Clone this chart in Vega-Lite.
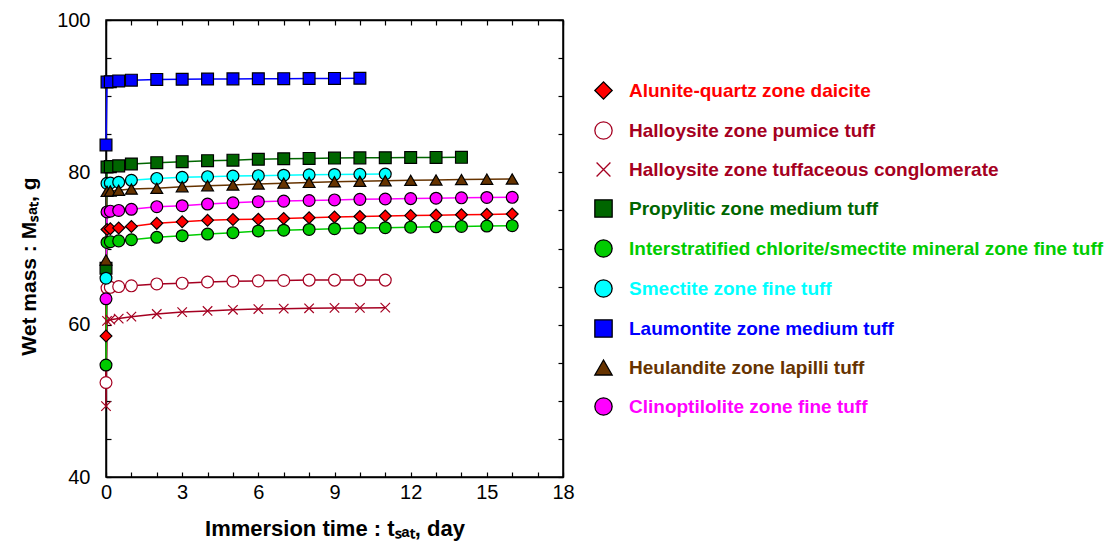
{
  "$schema": "https://vega.github.io/schema/vega-lite/v6.json",
  "width": 457,
  "height": 457,
  "autosize": {"type": "none"},
  "padding": {"left": 106, "top": 20, "right": 545, "bottom": 72},
  "background": "white",
  "config": {
    "view": {"stroke": "black", "strokeWidth": 1.5},
    "axis": {
      "grid": false,
      "domainColor": "black",
      "domainWidth": 1.5,
      "tickColor": "black",
      "tickWidth": 1.2,
      "tickSize": -5,
      "labelFlush": false,
      "labelColor": "black",
      "labelFont": "Liberation Sans",
      "labelFontSize": 20,
      "titleColor": "black",
      "titleFont": "Liberation Sans",
      "titleFontWeight": "bold",
      "titleFontSize": 22
    }
  },
  "data": {
    "values": [
      {"s": "Alunite-quartz zone daicite", "t": 0, "m": 58.5},
      {"s": "Alunite-quartz zone daicite", "t": 0.04, "m": 72.5},
      {"s": "Alunite-quartz zone daicite", "t": 0.17, "m": 72.6},
      {"s": "Alunite-quartz zone daicite", "t": 0.5, "m": 72.7},
      {"s": "Alunite-quartz zone daicite", "t": 1, "m": 72.9},
      {"s": "Alunite-quartz zone daicite", "t": 2, "m": 73.3},
      {"s": "Alunite-quartz zone daicite", "t": 3, "m": 73.5},
      {"s": "Alunite-quartz zone daicite", "t": 4, "m": 73.7},
      {"s": "Alunite-quartz zone daicite", "t": 5, "m": 73.8},
      {"s": "Alunite-quartz zone daicite", "t": 6, "m": 73.85},
      {"s": "Alunite-quartz zone daicite", "t": 7, "m": 73.95},
      {"s": "Alunite-quartz zone daicite", "t": 8, "m": 74.05},
      {"s": "Alunite-quartz zone daicite", "t": 9, "m": 74.15},
      {"s": "Alunite-quartz zone daicite", "t": 10, "m": 74.2},
      {"s": "Alunite-quartz zone daicite", "t": 11, "m": 74.27},
      {"s": "Alunite-quartz zone daicite", "t": 12, "m": 74.32},
      {"s": "Alunite-quartz zone daicite", "t": 13, "m": 74.38},
      {"s": "Alunite-quartz zone daicite", "t": 14, "m": 74.43},
      {"s": "Alunite-quartz zone daicite", "t": 15, "m": 74.48},
      {"s": "Alunite-quartz zone daicite", "t": 16, "m": 74.53},

      {"s": "Halloysite zone pumice tuff", "t": 0, "m": 52.4},
      {"s": "Halloysite zone pumice tuff", "t": 0.04, "m": 64.8},
      {"s": "Halloysite zone pumice tuff", "t": 0.17, "m": 64.9},
      {"s": "Halloysite zone pumice tuff", "t": 0.5, "m": 65.0},
      {"s": "Halloysite zone pumice tuff", "t": 1, "m": 65.1},
      {"s": "Halloysite zone pumice tuff", "t": 2, "m": 65.35},
      {"s": "Halloysite zone pumice tuff", "t": 3, "m": 65.45},
      {"s": "Halloysite zone pumice tuff", "t": 4, "m": 65.6},
      {"s": "Halloysite zone pumice tuff", "t": 5, "m": 65.7},
      {"s": "Halloysite zone pumice tuff", "t": 6, "m": 65.75},
      {"s": "Halloysite zone pumice tuff", "t": 7, "m": 65.8},
      {"s": "Halloysite zone pumice tuff", "t": 8, "m": 65.85},
      {"s": "Halloysite zone pumice tuff", "t": 9, "m": 65.85},
      {"s": "Halloysite zone pumice tuff", "t": 10, "m": 65.85},
      {"s": "Halloysite zone pumice tuff", "t": 11, "m": 65.85},

      {"s": "Halloysite zone tuffaceous conglomerate", "t": 0, "m": 49.3},
      {"s": "Halloysite zone tuffaceous conglomerate", "t": 0.04, "m": 60.5},
      {"s": "Halloysite zone tuffaceous conglomerate", "t": 0.17, "m": 60.65},
      {"s": "Halloysite zone tuffaceous conglomerate", "t": 0.5, "m": 60.8},
      {"s": "Halloysite zone tuffaceous conglomerate", "t": 1, "m": 61.05},
      {"s": "Halloysite zone tuffaceous conglomerate", "t": 2, "m": 61.4},
      {"s": "Halloysite zone tuffaceous conglomerate", "t": 3, "m": 61.65},
      {"s": "Halloysite zone tuffaceous conglomerate", "t": 4, "m": 61.8},
      {"s": "Halloysite zone tuffaceous conglomerate", "t": 5, "m": 61.95},
      {"s": "Halloysite zone tuffaceous conglomerate", "t": 6, "m": 62.05},
      {"s": "Halloysite zone tuffaceous conglomerate", "t": 7, "m": 62.1},
      {"s": "Halloysite zone tuffaceous conglomerate", "t": 8, "m": 62.15},
      {"s": "Halloysite zone tuffaceous conglomerate", "t": 9, "m": 62.2},
      {"s": "Halloysite zone tuffaceous conglomerate", "t": 10, "m": 62.2},
      {"s": "Halloysite zone tuffaceous conglomerate", "t": 11, "m": 62.23},

      {"s": "Propylitic zone medium tuff", "t": 0, "m": 67.4},
      {"s": "Propylitic zone medium tuff", "t": 0.04, "m": 80.7},
      {"s": "Propylitic zone medium tuff", "t": 0.17, "m": 80.75},
      {"s": "Propylitic zone medium tuff", "t": 0.5, "m": 80.85},
      {"s": "Propylitic zone medium tuff", "t": 1, "m": 81.1},
      {"s": "Propylitic zone medium tuff", "t": 2, "m": 81.27},
      {"s": "Propylitic zone medium tuff", "t": 3, "m": 81.4},
      {"s": "Propylitic zone medium tuff", "t": 4, "m": 81.53},
      {"s": "Propylitic zone medium tuff", "t": 5, "m": 81.6},
      {"s": "Propylitic zone medium tuff", "t": 6, "m": 81.72},
      {"s": "Propylitic zone medium tuff", "t": 7, "m": 81.78},
      {"s": "Propylitic zone medium tuff", "t": 8, "m": 81.83},
      {"s": "Propylitic zone medium tuff", "t": 9, "m": 81.87},
      {"s": "Propylitic zone medium tuff", "t": 10, "m": 81.9},
      {"s": "Propylitic zone medium tuff", "t": 11, "m": 81.92},
      {"s": "Propylitic zone medium tuff", "t": 12, "m": 81.94},
      {"s": "Propylitic zone medium tuff", "t": 13, "m": 81.96},
      {"s": "Propylitic zone medium tuff", "t": 14, "m": 81.97},

      {"s": "Interstratified chlorite/smectite mineral zone fine tuff", "t": 0, "m": 54.7},
      {"s": "Interstratified chlorite/smectite mineral zone fine tuff", "t": 0.04, "m": 70.8},
      {"s": "Interstratified chlorite/smectite mineral zone fine tuff", "t": 0.17, "m": 70.9},
      {"s": "Interstratified chlorite/smectite mineral zone fine tuff", "t": 0.5, "m": 71.0},
      {"s": "Interstratified chlorite/smectite mineral zone fine tuff", "t": 1, "m": 71.15},
      {"s": "Interstratified chlorite/smectite mineral zone fine tuff", "t": 2, "m": 71.47},
      {"s": "Interstratified chlorite/smectite mineral zone fine tuff", "t": 3, "m": 71.68},
      {"s": "Interstratified chlorite/smectite mineral zone fine tuff", "t": 4, "m": 71.9},
      {"s": "Interstratified chlorite/smectite mineral zone fine tuff", "t": 5, "m": 72.08},
      {"s": "Interstratified chlorite/smectite mineral zone fine tuff", "t": 6, "m": 72.3},
      {"s": "Interstratified chlorite/smectite mineral zone fine tuff", "t": 7, "m": 72.4},
      {"s": "Interstratified chlorite/smectite mineral zone fine tuff", "t": 8, "m": 72.5},
      {"s": "Interstratified chlorite/smectite mineral zone fine tuff", "t": 9, "m": 72.6},
      {"s": "Interstratified chlorite/smectite mineral zone fine tuff", "t": 10, "m": 72.68},
      {"s": "Interstratified chlorite/smectite mineral zone fine tuff", "t": 11, "m": 72.73},
      {"s": "Interstratified chlorite/smectite mineral zone fine tuff", "t": 12, "m": 72.8},
      {"s": "Interstratified chlorite/smectite mineral zone fine tuff", "t": 13, "m": 72.85},
      {"s": "Interstratified chlorite/smectite mineral zone fine tuff", "t": 14, "m": 72.9},
      {"s": "Interstratified chlorite/smectite mineral zone fine tuff", "t": 15, "m": 72.95},
      {"s": "Interstratified chlorite/smectite mineral zone fine tuff", "t": 16, "m": 73.0},

      {"s": "Smectite zone fine tuff", "t": 0, "m": 66.1},
      {"s": "Smectite zone fine tuff", "t": 0.04, "m": 78.55},
      {"s": "Smectite zone fine tuff", "t": 0.17, "m": 78.6},
      {"s": "Smectite zone fine tuff", "t": 0.5, "m": 78.7},
      {"s": "Smectite zone fine tuff", "t": 1, "m": 78.95},
      {"s": "Smectite zone fine tuff", "t": 2, "m": 79.2},
      {"s": "Smectite zone fine tuff", "t": 3, "m": 79.35},
      {"s": "Smectite zone fine tuff", "t": 4, "m": 79.43},
      {"s": "Smectite zone fine tuff", "t": 5, "m": 79.52},
      {"s": "Smectite zone fine tuff", "t": 6, "m": 79.56},
      {"s": "Smectite zone fine tuff", "t": 7, "m": 79.62},
      {"s": "Smectite zone fine tuff", "t": 8, "m": 79.68},
      {"s": "Smectite zone fine tuff", "t": 9, "m": 79.72},
      {"s": "Smectite zone fine tuff", "t": 10, "m": 79.75},
      {"s": "Smectite zone fine tuff", "t": 11, "m": 79.78},

      {"s": "Laumontite zone medium tuff", "t": 0, "m": 83.6},
      {"s": "Laumontite zone medium tuff", "t": 0.04, "m": 91.85},
      {"s": "Laumontite zone medium tuff", "t": 0.17, "m": 91.9},
      {"s": "Laumontite zone medium tuff", "t": 0.5, "m": 92.0},
      {"s": "Laumontite zone medium tuff", "t": 1, "m": 92.1},
      {"s": "Laumontite zone medium tuff", "t": 2, "m": 92.2},
      {"s": "Laumontite zone medium tuff", "t": 3, "m": 92.22},
      {"s": "Laumontite zone medium tuff", "t": 4, "m": 92.25},
      {"s": "Laumontite zone medium tuff", "t": 5, "m": 92.27},
      {"s": "Laumontite zone medium tuff", "t": 6, "m": 92.29},
      {"s": "Laumontite zone medium tuff", "t": 7, "m": 92.3},
      {"s": "Laumontite zone medium tuff", "t": 8, "m": 92.32},
      {"s": "Laumontite zone medium tuff", "t": 9, "m": 92.33},
      {"s": "Laumontite zone medium tuff", "t": 10, "m": 92.35},

      {"s": "Heulandite zone lapilli tuff", "t": 0, "m": 68.5},
      {"s": "Heulandite zone lapilli tuff", "t": 0.04, "m": 77.5},
      {"s": "Heulandite zone lapilli tuff", "t": 0.17, "m": 77.55},
      {"s": "Heulandite zone lapilli tuff", "t": 0.5, "m": 77.65},
      {"s": "Heulandite zone lapilli tuff", "t": 1, "m": 77.8},
      {"s": "Heulandite zone lapilli tuff", "t": 2, "m": 77.9},
      {"s": "Heulandite zone lapilli tuff", "t": 3, "m": 78.12},
      {"s": "Heulandite zone lapilli tuff", "t": 4, "m": 78.25},
      {"s": "Heulandite zone lapilli tuff", "t": 5, "m": 78.34},
      {"s": "Heulandite zone lapilli tuff", "t": 6, "m": 78.47},
      {"s": "Heulandite zone lapilli tuff", "t": 7, "m": 78.58},
      {"s": "Heulandite zone lapilli tuff", "t": 8, "m": 78.68},
      {"s": "Heulandite zone lapilli tuff", "t": 9, "m": 78.76},
      {"s": "Heulandite zone lapilli tuff", "t": 10, "m": 78.83},
      {"s": "Heulandite zone lapilli tuff", "t": 11, "m": 78.9},
      {"s": "Heulandite zone lapilli tuff", "t": 12, "m": 78.95},
      {"s": "Heulandite zone lapilli tuff", "t": 13, "m": 79.0},
      {"s": "Heulandite zone lapilli tuff", "t": 14, "m": 79.05},
      {"s": "Heulandite zone lapilli tuff", "t": 15, "m": 79.1},
      {"s": "Heulandite zone lapilli tuff", "t": 16, "m": 79.13},

      {"s": "Clinoptilolite zone fine tuff", "t": 0, "m": 63.4},
      {"s": "Clinoptilolite zone fine tuff", "t": 0.04, "m": 74.8},
      {"s": "Clinoptilolite zone fine tuff", "t": 0.17, "m": 74.9},
      {"s": "Clinoptilolite zone fine tuff", "t": 0.5, "m": 75.0},
      {"s": "Clinoptilolite zone fine tuff", "t": 1, "m": 75.15},
      {"s": "Clinoptilolite zone fine tuff", "t": 2, "m": 75.49},
      {"s": "Clinoptilolite zone fine tuff", "t": 3, "m": 75.62},
      {"s": "Clinoptilolite zone fine tuff", "t": 4, "m": 75.84},
      {"s": "Clinoptilolite zone fine tuff", "t": 5, "m": 76.0},
      {"s": "Clinoptilolite zone fine tuff", "t": 6, "m": 76.15},
      {"s": "Clinoptilolite zone fine tuff", "t": 7, "m": 76.22},
      {"s": "Clinoptilolite zone fine tuff", "t": 8, "m": 76.3},
      {"s": "Clinoptilolite zone fine tuff", "t": 9, "m": 76.38},
      {"s": "Clinoptilolite zone fine tuff", "t": 10, "m": 76.45},
      {"s": "Clinoptilolite zone fine tuff", "t": 11, "m": 76.5},
      {"s": "Clinoptilolite zone fine tuff", "t": 12, "m": 76.55},
      {"s": "Clinoptilolite zone fine tuff", "t": 13, "m": 76.6},
      {"s": "Clinoptilolite zone fine tuff", "t": 14, "m": 76.65},
      {"s": "Clinoptilolite zone fine tuff", "t": 15, "m": 76.7},
      {"s": "Clinoptilolite zone fine tuff", "t": 16, "m": 76.72}
    ]
  },
  "layer": [
    {
      "mark": {"type": "line", "strokeWidth": 1.5},
      "encoding": {
        "x": {
          "field": "t", "type": "quantitative",
          "scale": {"domain": [0, 18], "nice": false},
          "axis": {
            "orient": "bottom",
            "values": [0, 1, 2, 3, 4, 5, 6, 7, 8, 9, 10, 11, 12, 13, 14, 15, 16, 17, 18],
            "labelExpr": "datum.value % 3 === 0 ? datum.label : ''",
            "labelPadding": 10,
            "title": "Immersion time : tₛₐₜ, day",
            "titlePadding": 16
          }
        },
        "y": {
          "field": "m", "type": "quantitative",
          "scale": {"domain": [40, 100], "nice": false},
          "axis": {
            "orient": "left",
            "values": [40, 45, 50, 55, 60, 65, 70, 75, 80, 85, 90, 95, 100],
            "labelExpr": "datum.value % 20 === 0 ? datum.label : ''",
            "labelPadding": 21,
            "title": "Wet mass : Mₛₐₜ, g",
            "titleFontSize": 21,
            "titleY": 246,
            "titlePadding": 17
          }
        },
        "color": {
          "field": "s", "type": "nominal",
          "sort": ["Alunite-quartz zone daicite", "Halloysite zone pumice tuff", "Halloysite zone tuffaceous conglomerate", "Propylitic zone medium tuff", "Interstratified chlorite/smectite mineral zone fine tuff", "Smectite zone fine tuff", "Laumontite zone medium tuff", "Heulandite zone lapilli tuff", "Clinoptilolite zone fine tuff"],
          "scale": {"range": ["#FF0000", "#A50021", "#A50021", "#006600", "#00CC00", "#00FFFF", "#0000FF", "#663300", "#FF00FF"]},
          "legend": null
        },
        "order": {"field": "t", "type": "quantitative"}
      }
    },
    {
      "mark": {"type": "point", "opacity": 1, "strokeWidth": 1.2, "size": 140},
      "encoding": {
        "x": {
          "field": "t", "type": "quantitative",
          "axis": {
            "orient": "top",
            "values": [0, 1, 2, 3, 4, 5, 6, 7, 8, 9, 10, 11, 12, 13, 14, 15, 16, 17, 18],
            "labels": false,
            "title": null
          }
        },
        "y": {
          "field": "m", "type": "quantitative",
          "axis": {
            "orient": "right",
            "values": [40, 45, 50, 55, 60, 65, 70, 75, 80, 85, 90, 95, 100],
            "labels": false,
            "title": null
          }
        },
        "shape": {
          "field": "s", "type": "nominal",
          "scale": {
            "domain": ["Alunite-quartz zone daicite", "Halloysite zone pumice tuff", "Halloysite zone tuffaceous conglomerate", "Propylitic zone medium tuff", "Interstratified chlorite/smectite mineral zone fine tuff", "Smectite zone fine tuff", "Laumontite zone medium tuff", "Heulandite zone lapilli tuff", "Clinoptilolite zone fine tuff"],
            "range": ["diamond", "circle", "M-0.8,-0.8L0.8,0.8M-0.8,0.8L0.8,-0.8", "square", "circle", "circle", "square", "triangle-up", "circle"]
          },
          "legend": {
            "orient": "none", "legendX": 488, "legendY": 61, "padding": 0, "title": null,
            "symbolSize": 300, "symbolStrokeWidth": 1.3,
            "labelFont": "Liberation Sans", "labelFontWeight": "bold", "labelFontSize": 19,
            "labelOffset": 16, "labelLimit": 700, "rowPadding": 17,
            "labelColor": {"expr": "scale('color', datum.value)"}
          }
        },
        "fill": {
          "field": "s", "type": "nominal",
          "scale": {
            "domain": ["Alunite-quartz zone daicite", "Halloysite zone pumice tuff", "Halloysite zone tuffaceous conglomerate", "Propylitic zone medium tuff", "Interstratified chlorite/smectite mineral zone fine tuff", "Smectite zone fine tuff", "Laumontite zone medium tuff", "Heulandite zone lapilli tuff", "Clinoptilolite zone fine tuff"],
            "range": ["#FF0000", "#FFFFFF", "transparent", "#006600", "#00CC00", "#00FFFF", "#0000FF", "#663300", "#FF00FF"]
          }
        },
        "stroke": {
          "field": "s", "type": "nominal",
          "scale": {
            "domain": ["Alunite-quartz zone daicite", "Halloysite zone pumice tuff", "Halloysite zone tuffaceous conglomerate", "Propylitic zone medium tuff", "Interstratified chlorite/smectite mineral zone fine tuff", "Smectite zone fine tuff", "Laumontite zone medium tuff", "Heulandite zone lapilli tuff", "Clinoptilolite zone fine tuff"],
            "range": ["#000000", "#A50021", "#A50021", "#000000", "#000000", "#000000", "#000000", "#000000", "#000000"]
          }
        }
      }
    }
  ],
  "resolve": {"axis": {"x": "independent", "y": "independent"}}
}
